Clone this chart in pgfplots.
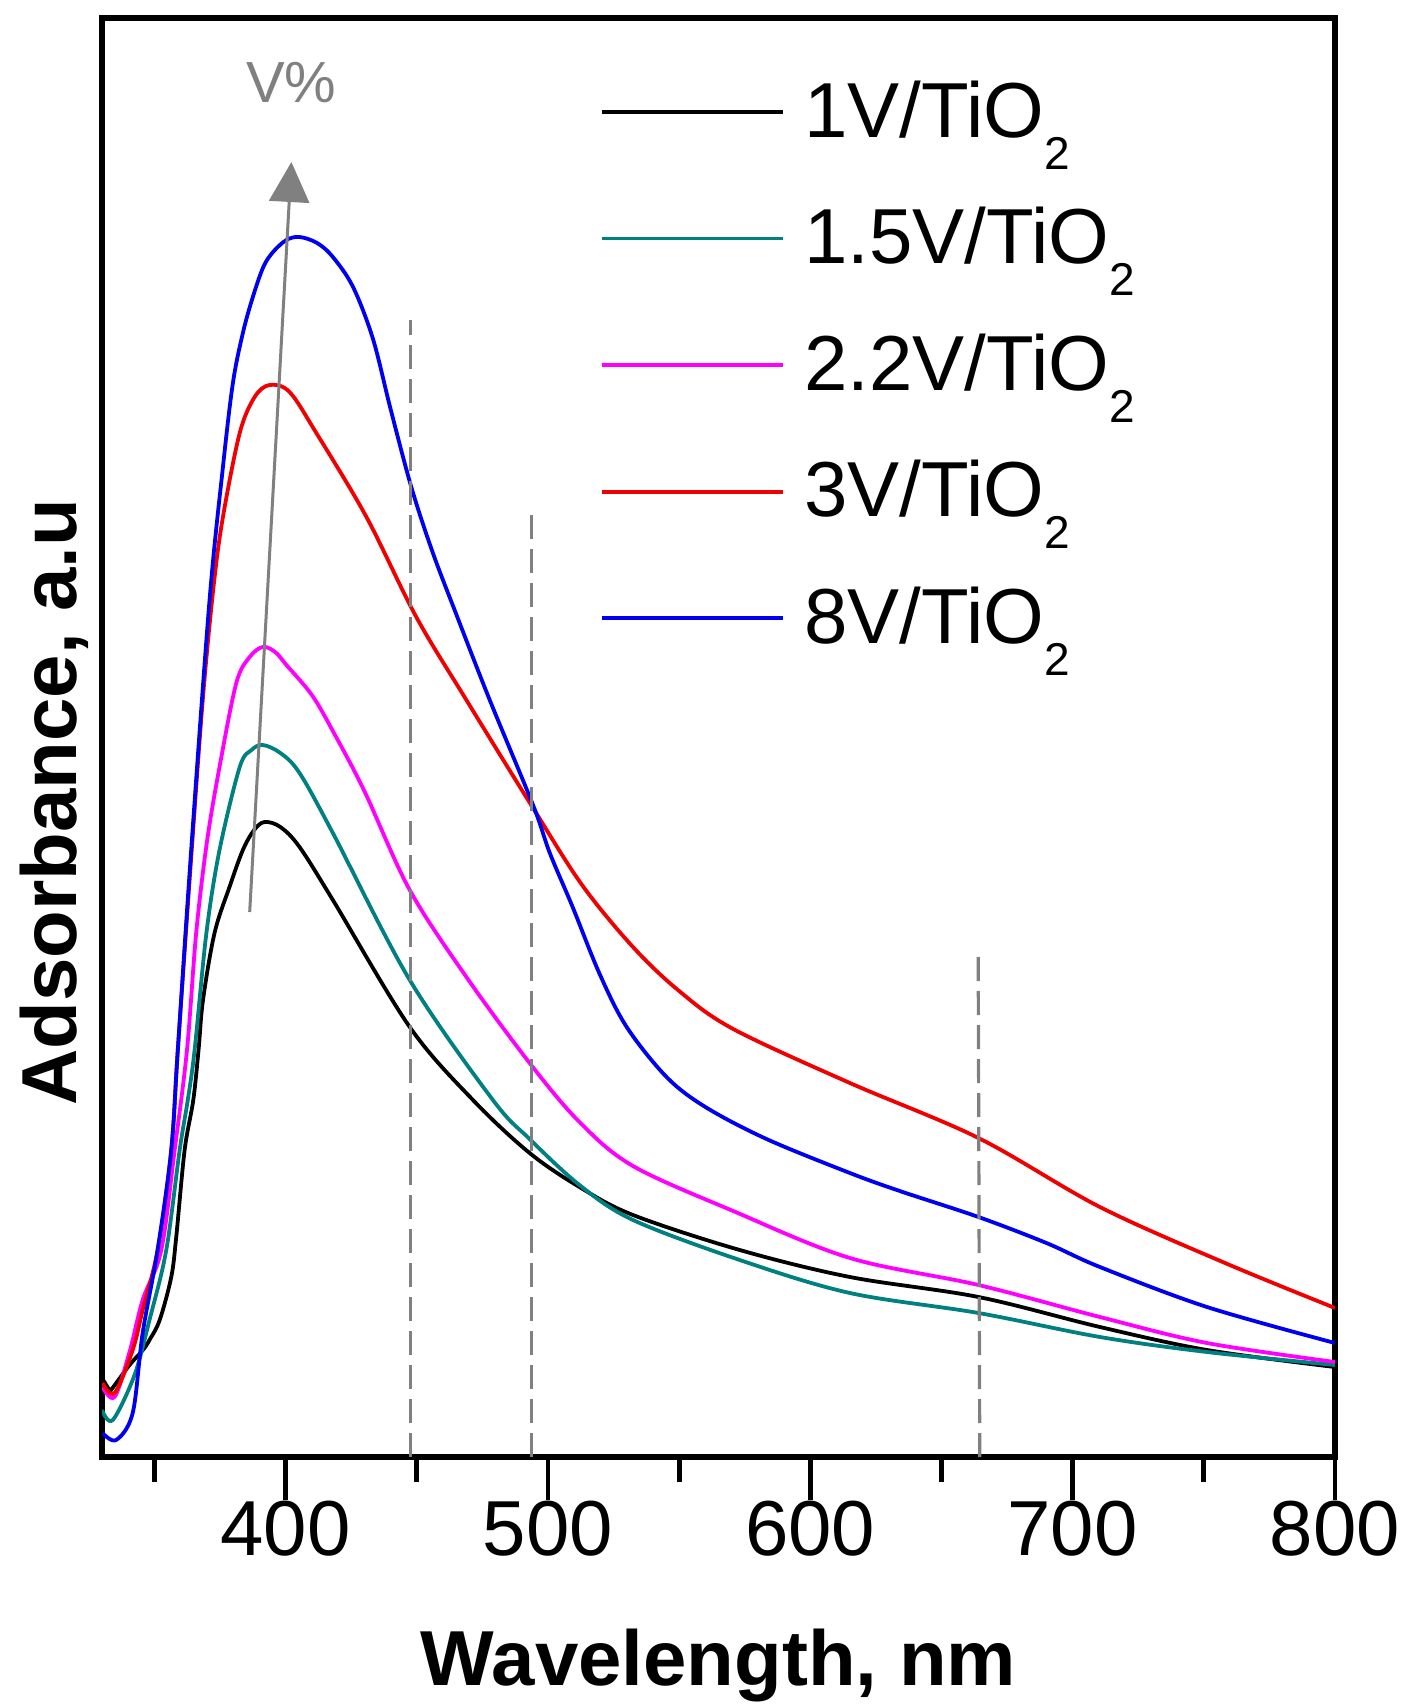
\documentclass[border=0pt]{standalone}
\usepackage{fontspec}
\setmainfont{Liberation Sans}
\usepackage{pgfplots}
\pgfplotsset{compat=1.18}
\usetikzlibrary{arrows.meta}
\definecolor{dcyan}{RGB}{0,128,128}
\definecolor{lgray}{RGB}{128,128,128}
\definecolor{vmag}{RGB}{255,0,255}
\definecolor{vred}{RGB}{240,0,0}
\definecolor{vblue}{RGB}{0,0,240}
\newcommand{\subtwo}{\raisebox{-8pt}{\fontsize{11.5}{11.5}\selectfont 2}}
\begin{document}
\begin{tikzpicture}
\begin{axis}[
  scale only axis, width=308.25pt, height=359.75pt,
  xmin=330, xmax=800, ymin=0, ymax=1439,
  xtick={400,500,600,700,800},
  minor xtick={350,450,550,650,750},
  ytick=\empty,
  xtick pos=bottom,
  tick align=outside,
  major tick length=10.75pt, minor tick length=6.25pt,
  every tick/.style={black, line width=1.2pt},
  axis line style={line width=1.6pt},
  /pgf/number format/assume math mode=true,
  ticklabel style={font=\fontsize{19.5}{19.5}\selectfont},
  xticklabel style={anchor=north, inner sep=0pt},
  xlabel={Wavelength, nm},
  ylabel={Adsorbance, a.u},
  label style={font=\bfseries\fontsize{19.5}{19.5}\selectfont},
  xlabel style={at={(axis description cs:0.5,0)}, anchor=base, yshift=-57pt},
  ylabel style={at={(axis description cs:-0.0203,0.455)}, anchor=base},
  legend cell align=left,
  legend style={draw=none, fill=none, at={(axis cs:519.4,1377)}, anchor=north west,
    inner sep=0pt, row sep=16pt, nodes={inner sep=0pt},
    font=\fontsize{19.5}{19.5}\selectfont},
  legend image code/.code={\draw[#1] (0pt,0pt) -- (45.25pt,0pt); \path (50.25pt,0pt);},
  every axis plot/.append style={line width=0.95pt, smooth, tension=0.55, line join=round},
]
\addplot[black] table {
330 79
332.9 67
334.0 69
340.5 92
345.6 107
348.1 117
352.0 137
356.4 180
358.3 220
361.5 307
364.8 357
366.8 407
368.5 457
372.9 524
378.6 570
383.7 607
388 627
392 635
398 630
405.3 610
418.0 557
447.3 430
471.4 357
493.0 304
512 270
532.4 242
573.1 207
615.1 180
664.1 160
710.4 130
751.2 107
800 90
};
\addlegendentry{1V/TiO\subtwo}
\addplot[dcyan] table {
330 47
334.1 37
342.4 82
348.1 137
354.5 207
359.6 307
362.7 357
365.3 407
369.8 524
374.8 607
382.5 690
387.0 707
391.3 712
398 704
405.3 684
418.0 624
447.3 477
479.0 357
493.0 318
512 272
532.4 237
573.1 197
615.1 164
664.1 144
710.4 120
751.2 105
800 92
};
\addlegendentry{1.5V/TiO\subtwo}
\addplot[vmag] table {
330.2 70
334.8 60
340.5 105
345.5 157
352.6 207
357.7 307
362.4 407
365.9 524
370.0 615
374.8 690
381.2 774
386.3 800
391.3 810
396 805
400.3 792
410 762
418.0 726
430 666
447.3 567
468.9 480
493.0 394
512 335
532.4 291
570.6 246
615.1 199
664.1 172
710.4 140
751.2 114
800 95
};
\addlegendentry{2.2V/TiO\subtwo}
\addplot[vred] table {
330.2 74
334.8 64
341.7 107
345.5 147
351.2 207
356.4 307
358.9 407
364.2 607
368.5 760
372.5 870
376.1 940
382.5 1024
388.2 1060
393.9 1072
401.5 1065
411.7 1024
430.8 940
449.8 840
468.9 757
494.3 649
513 572
532.4 510
550 466
570.6 428
615.1 374
664.1 319
710.4 250
758.1 194
800 149
};
\addlegendentry{3V/TiO\subtwo}
\addplot[vblue] table {
330.2 24
335.4 17
341.7 44
345.5 124
351.2 207
356.4 307
358.9 407
364.0 607
371.0 857
376.1 990
379.9 1074
383.7 1124
387.5 1160
391.5 1190
395.2 1205
400.3 1217
405.3 1220
412 1214
418.0 1200
425.7 1170
433.3 1118
440.0 1048
447.9 970
456.0 905
465.0 843
477.8 757
494.3 652
500.7 604
509.4 550
519.7 483
530 430
545.2 380
560 350
583.3 318
615.1 284
634.1 266
664.1 240
690 214
710.4 190
751.2 150
800 114
};
\addlegendentry{8V/TiO\subtwo}
\addplot[forget plot, lgray, line width=0.8pt, dash pattern=on 6pt off 2.5pt, sharp plot] coordinates {(447.6,0) (447.6,1137)};
\addplot[forget plot, lgray, line width=0.8pt, dash pattern=on 6pt off 2.5pt, sharp plot] coordinates {(493.7,0) (493.7,950)};
\addplot[forget plot, lgray, line width=0.8pt, dash pattern=on 6pt off 2.5pt, sharp plot] coordinates {(664.6,0) (664.0,506)};
\draw[lgray, line width=0.75pt, -{Triangle[width=10pt,length=10pt]}] (axis cs:386.3,545) -- (axis cs:402.2,1295);
\node[lgray, font=\fontsize{14.5}{14.5}\selectfont] at (axis cs:402.2,1374) {V\%};
\end{axis}
\pgfresetboundingbox
\path ([shift={(-25.5pt,-62pt)}]current axis.south west) rectangle ([shift={(17.75pt,4.5pt)}]current axis.north east);
\end{tikzpicture}
\end{document}
